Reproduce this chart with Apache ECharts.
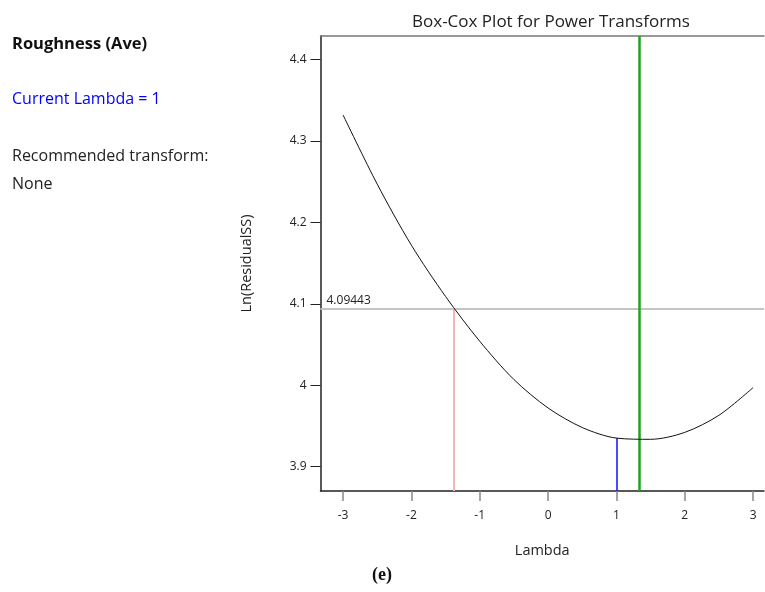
<!DOCTYPE html>
<html>
<head>
<meta charset="utf-8">
<script src="https://cdn.jsdelivr.net/npm/echarts@6/dist/echarts.min.js"></script>
<style>
  html, body { margin: 0; padding: 0; background: #fff; }
  #chart { width: 765px; height: 592px; }
</style>
</head>
<body>
<div id="chart"></div>
<script>
// Box-Cox curve: ln(residual SS) against lambda
const lambdas = [-3.0, -2.5, -2.0, -1.5, -1.0, -0.5, 0.0, 0.5, 1.0, 1.5, 2.0, 2.5, 3.0];
const lnResidualSS = [4.332, 4.247, 4.172, 4.109, 4.054, 4.007, 3.972, 3.948, 3.935, 3.9335, 3.942, 3.963, 3.997];

// reference markers
const ciLimit = 4.09443;        // confidence-interval cut-off
const lowCI = -1.38;            // lambda where curve meets cut-off
const bestLambda = 1.33;        // minimum of curve
const currentLambda = 1;
const currentValue = 3.935;

const xTicks = [-3, -2, -1, 0, 1, 2, 3];
const yTicks = [3.9, 4.0, 4.1, 4.2, 4.3, 4.4];

const X_MIN = -3.33, X_MAX = 3.16, Y_MIN = 3.870, Y_MAX = 4.429;
const FONT = '"Open Sans", "Noto Sans", sans-serif';

const chart = echarts.init(document.getElementById('chart'), null, { renderer: 'canvas' });

chart.setOption({
  backgroundColor: '#ffffff',
  animation: false,
  title: {
    text: 'Box-Cox Plot for Power Transforms',
    left: 546, top: 9, textAlign: 'center',
    textStyle: { fontFamily: FONT, fontSize: 17, fontWeight: 'normal', color: '#222' }
  },
  grid: { left: 320.5, right: 1, top: 36, bottom: 101 },
  xAxis: [{
    type: 'value', min: X_MIN, max: X_MAX,
    name: 'Lambda', nameLocation: 'middle', nameGap: 52,
    nameTextStyle: { fontFamily: FONT, fontSize: 14.5, color: '#222' },
    axisLine: { show: true, onZero: false, lineStyle: { color: '#222', width: 1.5 } },
    axisTick: { show: true, customValues: xTicks, length: 10, lineStyle: { color: '#888', width: 1.5 } },
    axisLabel: { customValues: xTicks, margin: 19, fontFamily: FONT, fontSize: 12, color: '#222',
                 formatter: v => String(Math.round(v)) },
    splitLine: { show: false }
  }, {
    type: 'value', position: 'top', min: X_MIN, max: X_MAX,
    axisLine: { show: true, onZero: false, lineStyle: { color: '#777', width: 1.5 } },
    axisTick: { show: false }, axisLabel: { show: false }, splitLine: { show: false }
  }],
  yAxis: {
    type: 'value', min: Y_MIN, max: Y_MAX,
    name: 'Ln(ResidualSS)', nameLocation: 'middle', nameGap: 66, nameRotate: 90,
    nameTextStyle: { fontFamily: FONT, fontSize: 14.5, color: '#222' },
    axisLine: { show: true, onZero: false, lineStyle: { color: '#222', width: 1.5 } },
    axisTick: { show: true, customValues: yTicks, length: 10, lineStyle: { color: '#222', width: 1 } },
    axisLabel: { customValues: yTicks, margin: 14, fontFamily: FONT, fontSize: 12, color: '#222',
                 formatter: v => String(+v.toFixed(1)) },
    splitLine: { show: false }
  },
  series: [{
    type: 'line',
    data: lambdas.map((l, i) => [l, lnResidualSS[i]]),
    smooth: 0.3,
    showSymbol: false,
    lineStyle: { color: '#111', width: 1 },
    z: 5,
    markLine: {
      silent: true, symbol: 'none', animation: false,
      label: { show: false },
      data: [
        [{ coord: [X_MIN, ciLimit], lineStyle: { color: '#c4c4c4', width: 2, type: 'solid' },
           label: { show: true, position: 'start', formatter: String(ciLimit), distance: 0,
                    color: '#222', fontFamily: FONT, fontSize: 12, align: 'left',
                    verticalAlign: 'bottom', padding: [0, 0, 2, 6] } },
         { coord: [X_MAX, ciLimit] }],
        [{ coord: [lowCI, Y_MIN], lineStyle: { color: '#f4b4b4', width: 2, type: 'solid' } },
         { coord: [lowCI, ciLimit] }],
        [{ coord: [currentLambda, Y_MIN], lineStyle: { color: '#1010ff', width: 1.5, type: 'solid' } },
         { coord: [currentLambda, currentValue] }],
        [{ coord: [bestLambda, Y_MIN], lineStyle: { color: '#1fa31f', width: 2.5, type: 'solid' } },
         { coord: [bestLambda, Y_MAX] }]
      ]
    }
  }],
  graphic: [
    { type: 'text', left: 12, top: 36, style: { text: 'Roughness (Ave)', fontFamily: FONT, fontSize: 16.5, fontWeight: 'bold', fill: '#111' } },
    { type: 'text', left: 12, top: 91, style: { text: 'Current Lambda = 1', fontFamily: FONT, fontSize: 16, fill: '#0000ff' } },
    { type: 'text', left: 12, top: 148, style: { text: 'Recommended transform:', fontFamily: FONT, fontSize: 16, fill: '#222' } },
    { type: 'text', left: 12, top: 176, style: { text: 'None', fontFamily: FONT, fontSize: 16, fill: '#222' } },
    { type: 'text', left: 372, top: 566, style: { text: '(e)', fontFamily: '"Liberation Serif", "DejaVu Serif", serif', fontSize: 18, fontWeight: 'bold', fill: '#111' } }
  ]
});
</script>
</body>
</html>
